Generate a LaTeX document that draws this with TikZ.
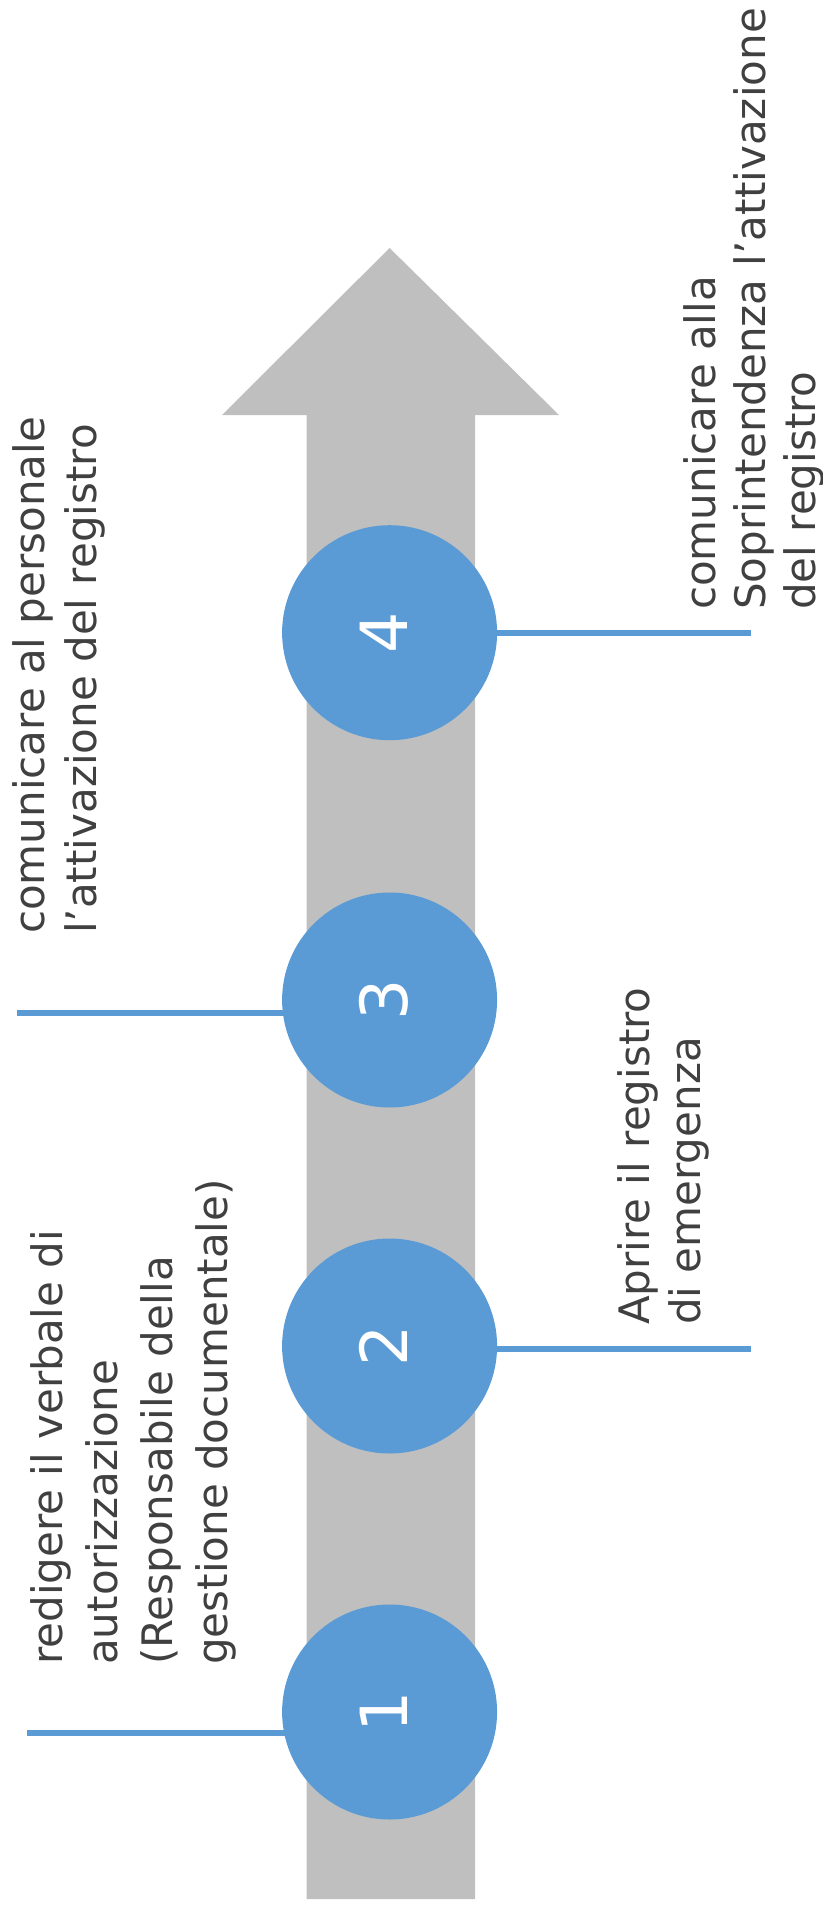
\documentclass[tikz,border=0pt]{standalone}
\usepackage{fontspec}
\setmainfont{DejaVu Sans}
\usetikzlibrary{backgrounds}
\definecolor{stepblue}{HTML}{5B9BD5}
\definecolor{arrowgray}{HTML}{BFBFBF}
\definecolor{txtgray}{HTML}{404040}
\tikzset{
  stepcircle/.style={circle, fill=stepblue, minimum size=215pt, inner sep=0pt,
    text=white, rotate=90, text height=35pt, text depth=0pt,
    font=\fontsize{65}{65}\selectfont},
  conn/.style={draw=stepblue, line width=6pt},
  desc/.style={rotate=90, anchor=north west, inner sep=0pt, align=left,
    text=txtgray, font=\fontsize{42}{#1}\selectfont},
  desc/.default=51,
  bigarrow/.style={fill=arrowgray, draw=none}
}
\begin{document}
\begin{tikzpicture}[x=1pt,y=-1pt]
\useasboundingbox (0,0) rectangle (822,1914);
% step circles
\node[stepcircle] (c4) at (389.6,632.7) {4};
\node[stepcircle] (c3) at (389.6,1000) {3};
\node[stepcircle] (c2) at (389.6,1346) {2};
\node[stepcircle] (c1) at (389.6,1712) {1};
% free ends of connectors
\coordinate (e4) at (751,632.7);
\coordinate (e3) at (17,1013);
\coordinate (e2) at (751,1349);
\coordinate (e1) at (27,1733);
\begin{scope}[on background layer]
  \path[bigarrow] (306.6,1899) -- (475,1899) -- (475,415) -- (559,415)
     -- (389.6,248) -- (222,415) -- (306.6,415) -- cycle;
  \draw[conn] (e4) -- (e4 -| c4.center);
  \draw[conn] (e3) -- (e3 -| c3.center);
  \draw[conn] (e2) -- (e2 -| c2.center);
  \draw[conn] (e1) -- (e1 -| c1.center);
\end{scope}
% descriptions
\node[desc=50] (t4) at (683,610) {comunicare alla\\Soprintendenza l’attivazione\\del registro};
\node[desc=52] (t3) at (12,934) {comunicare al personale\\l’attivazione del registro};
\node[desc=51] (t2) at (617,1325) {Aprire il registro\\di emergenza};
\node[desc=55] (t1) at (30,1665) {redigere il verbale di\\autorizzazione\\(Responsabile della\\gestione documentale)};
\end{tikzpicture}
\end{document}
